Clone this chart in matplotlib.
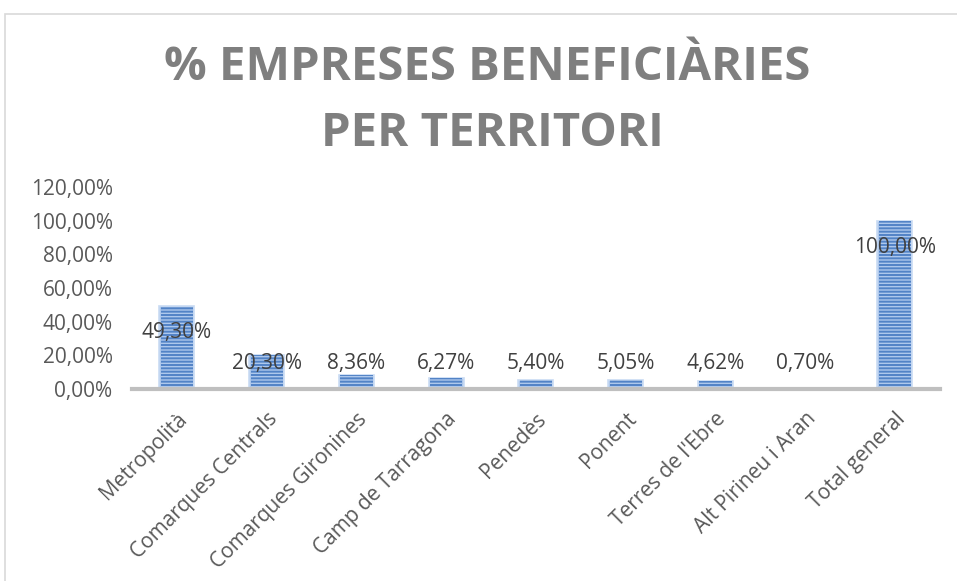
import matplotlib
matplotlib.use("Agg")
from matplotlib import pyplot as plt
from matplotlib.patches import Rectangle

territoris = ["Metropolità", "Comarques Centrals", "Comarques Gironines", "Camp de Tarragona",
              "Penedès", "Ponent", "Terres de l'Ebre", "Alt Pirineu i Aran", "Total general"]
percentatges = [49.30, 20.30, 8.36, 6.27, 5.40, 5.05, 4.62, 0.70, 100.00]
yticks = [0, 20, 40, 60, 80, 100, 120]

def fmt(v):  # format català amb coma decimal
    return ("%.2f%%" % v).replace(".", ",")

plt.rcParams['font.family'] = ['Open Sans', 'DejaVu Sans']
plt.rcParams['hatch.linewidth'] = 1.4

fig = plt.figure(figsize=(9.57, 5.81), dpi=100)
fig.patches.append(Rectangle((5 / 957, -0.1), 1.1, (581 - 14) / 581 + 0.1, transform=fig.transFigure,
                             fill=False, edgecolor='#d9d9d9', linewidth=1.2))
ax = fig.add_axes([0.138, 0.3305, 0.844, 0.3475])

x = range(len(territoris))
# fons clar + ratlles horitzontals (el color de la trama ve de l'edgecolor)
ax.bar(x, percentatges, width=0.39, color='#aec8ec', edgecolor='#c9dbf3', linewidth=1.2)
ax.bar(x, percentatges, width=0.36, color='none', edgecolor='#5283c6', linewidth=0, hatch='-----')

for i, v in enumerate(percentatges):
    ypos = max(v - 16, 15.4)
    ax.text(i, ypos, fmt(v), ha='center', va='center', fontsize=15, color='#404040')

ax.set_xlim(-0.5, len(territoris) - 0.5)
ax.set_ylim(0, 120)
ax.set_yticks(yticks)
ax.set_yticklabels([fmt(t) for t in yticks], fontsize=15, color='#595959')
ax.set_xticks(list(x))
ax.set_xticklabels(territoris, rotation=45, ha='right', rotation_mode='anchor', fontsize=15, color='#595959')
ax.tick_params(axis='both', length=0)
ax.tick_params(axis='x', pad=14)
ax.tick_params(axis='y', pad=14)
for s in ['top', 'right', 'left']:
    ax.spines[s].set_visible(False)
ax.spines['bottom'].set_color('#bfbfbf')
ax.spines['bottom'].set_linewidth(3)

fig.text(0.509, 0.883, "% EMPRESES BENEFICIÀRIES", ha='center', va='center', fontsize=34,
         fontweight='bold', color='#7f7f7f', family='Open Sans')
fig.text(0.514, 0.771, "PER TERRITORI", ha='center', va='center', fontsize=34,
         fontweight='bold', color='#7f7f7f', family='Open Sans')

fig.savefig("out.png", dpi=100)
